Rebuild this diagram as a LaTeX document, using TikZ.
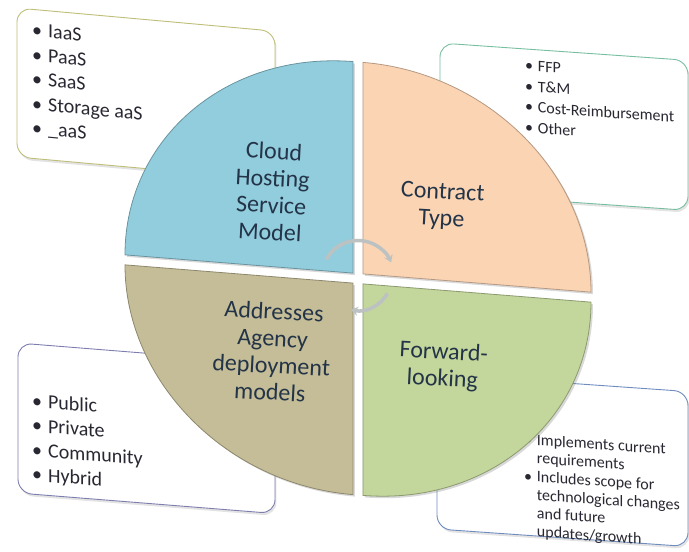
\documentclass[tikz,border=0pt]{standalone}
\usepackage{fontspec}
\setmainfont{Carlito}
\usetikzlibrary{arrows.meta,shadows}

\definecolor{hostblue}{RGB}{146,205,221}
\definecolor{contractpeach}{RGB}{251,212,180}
\definecolor{deployolive}{RGB}{196,189,151}
\definecolor{forwardgreen}{RGB}{195,214,155}
\definecolor{labelink}{RGB}{36,52,72}
\definecolor{listink}{RGB}{40,40,50}
\definecolor{edgekhaki}{RGB}{190,190,120}
\definecolor{edgeteal}{RGB}{120,190,160}
\definecolor{edgeviolet}{RGB}{125,125,175}
\definecolor{edgeblue}{RGB}{110,140,190}
\definecolor{ringgray}{RGB}{188,194,194}
\newcommand{\blt}{\textbullet\hspace{0.3em}}

\begin{document}
\begin{tikzpicture}[x=1pt,y=1pt,
		quad/.style={fill=#1,draw=#1!72!black,line width=0.8pt,
			drop shadow={shadow xshift=2pt,shadow yshift=-2pt,opacity=0.3}},
		callout/.style={draw=#1,line width=0.9pt,fill=white,rounded corners=14pt,
			drop shadow={shadow xshift=1.5pt,shadow yshift=-2.5pt,opacity=0.22}},
		title/.style={text=labelink,align=center,rotate=-3,
			font=\fontsize{24}{27}\selectfont},
		biglist/.style={text=listink,align=left,anchor=north west,inner sep=0pt,
			transform shape,font=\fontsize{20}{24.5}\selectfont},
		smalllist/.style={text=listink,align=left,anchor=north west,inner sep=0pt,
			transform shape,font=\fontsize{16}{20.5}\selectfont},
		ring/.style={line width=3.5pt,draw=ringgray,-{Stealth[length=7pt,width=9pt]}}
	]
	\useasboundingbox (-358,-273.5) rectangle (331,278.5);

	% callouts behind the pie
	\begin{scope}[shift={(-341,270.5)},yslant=-0.09]
		\draw[callout=edgekhaki] (0,0) rectangle (258,-149);
		\node[biglist] (services) at (15,-14) {\blt IaaS\\\blt PaaS\\\blt SaaS\\\blt Storage aaS\\\blt \_aaS};
	\end{scope}
	\begin{scope}[shift={(82,235.5)},yslant=-0.07]
		\draw[callout=edgeteal] (0,0) rectangle (248,-150);
		\node[smalllist] (contracts) at (85,-11.5) {\blt FFP\\\blt T\&M\\\blt Cost-Reimbursement\\\blt Other};
	\end{scope}
	\begin{scope}[shift={(-340,-64.5)},yslant=-0.08]
		\draw[callout=edgeviolet] (0,0) rectangle (257,-150);
		\node[biglist] (deployments) at (14,-49) {\blt Public\\\blt Private\\\blt Community\\\blt Hybrid};
	\end{scope}
	\begin{scope}[shift={(79,-95.5)},yslant=-0.07]
		\draw[callout=edgeblue] (0,0) rectangle (251,-155);
		\node[smalllist,font=\fontsize{16}{18.3}\selectfont] (scope) at (87,-53)
			{\blt Implements current\\\hphantom{\blt}requirements\\\blt Includes scope for\\\hphantom{\blt}technological changes\\\hphantom{\blt}and future\\\hphantom{\blt}updates/growth};
	\end{scope}

	% the four quarters
	\begin{scope}[yslant=-0.08]
		\draw[quad=hostblue] (-5,5) -- (-5,216.5)
			arc[start angle=90,end angle=180,x radius=228pt,y radius=211.5pt] -- cycle;
		\draw[quad=contractpeach] (5,5) -- (233,5)
			arc[start angle=0,end angle=90,x radius=228pt,y radius=211.5pt] -- cycle;
		\draw[quad=deployolive] (-5,-5) -- (-233,-5)
			arc[start angle=180,end angle=270,x radius=228pt,y radius=211.5pt] -- cycle;
		\draw[quad=forwardgreen] (5,-5) -- (5,-216.5)
			arc[start angle=270,end angle=360,x radius=228pt,y radius=211.5pt] -- cycle;
	\end{scope}

	\node[title] (hosting) at (-86,87) {Cloud\\Hosting\\Service\\Model};
	\node[title] (contract) at (84,72) {Contract\\Type};
	\node[title] (deploy) at (-86,-73) {Addresses\\Agency\\deployment\\models};
	\node[title] (forward) at (85,-88) {Forward-\\looking};

	% turning arrows round the middle
	\coordinate (hub) at (0,2);
	\draw[ring] ([shift={(152:36)}]hub) arc[start angle=152,end angle=23,radius=36pt];
	\draw[ring] ([shift={(-30:34)}]hub) arc[start angle=-30,end angle=-102,radius=34pt];
\end{tikzpicture}
\end{document}
